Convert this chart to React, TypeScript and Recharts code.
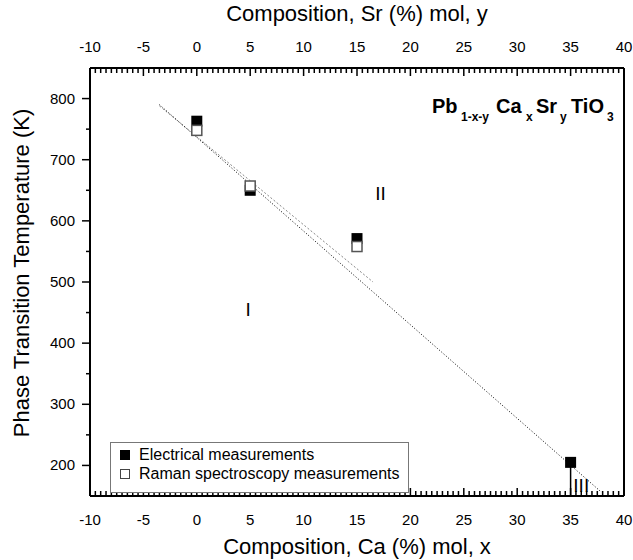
import React from 'react';
import {
  ComposedChart,
  Scatter,
  XAxis,
  YAxis,
  ReferenceLine,
  ReferenceDot,
  Legend
} from 'recharts';

// transition temperatures (K) vs Ca content x (mol %)
const electricalX = [0, 5, 15, 35];
const electricalT = [763, 650, 571, 205];
const ramanX = [0, 5, 15];
const ramanT = [748, 657, 558];

// phase boundary I / II (dotted) and fit of the Raman points (dashed)
const boundaryX = [-3.5, 37.9];
const boundaryT = [790, 156];
const ramanFitX = [-3.5, 16.5];
const ramanFitT = [788, 500];

// edge of phase III
const edgeX = [35, 35];
const edgeT = [205, 150];

const phaseLabels = ['I', 'II', 'III'];
const phaseLabelX = [4.8, 17.2, 36];
const phaseLabelT = [455, 645, 168];

const xMajorTicks = [-10, -5, 0, 5, 10, 15, 20, 25, 30, 35, 40];
const yMajorTicks = [200, 300, 400, 500, 600, 700, 800];

const FONT = 'Arial, "Liberation Sans", sans-serif';

// minor ticks every 0.5 on x, every 50 on y
const xTicks: number[] = [];
xMajorTicks.forEach((v, i) => {
  xTicks.push(v);
  if (i < xMajorTicks.length - 1) for (let k = 1; k < 10; k++) xTicks.push(v + k * 0.5);
});
const yTicks: number[] = [];
yMajorTicks.forEach((v, i) => {
  yTicks.push(v);
  if (i < yMajorTicks.length - 1) yTicks.push(v + 50);
});

const electricalData = electricalX.map((x, i) => ({ x, t: electricalT[i] }));
const ramanData = ramanX.map((x, i) => ({ x, t: ramanT[i] }));

// inward tick marks on the x axes, long ones carry the label
const XTick = ({ x, y, payload, side }: any) => {
  const major = xMajorTicks.includes(payload.value);
  const dir = side === 'top' ? 1 : -1;
  return (
    <g>
      <line x1={x} x2={x} y1={y} y2={y + dir * (major ? 8 : 5)} stroke="#000" strokeWidth={1.5} />
      {major && (
        <text
          x={x}
          y={side === 'top' ? y - 16 : y + 29}
          textAnchor="middle"
          fontFamily={FONT}
          fontSize={15}
          fill="#000"
        >
          {payload.value}
        </text>
      )}
    </g>
  );
};

const LeftTick = ({ x, y, payload }: any) => {
  const major = yMajorTicks.includes(payload.value);
  return (
    <g>
      <line x1={x} x2={x - (major ? 8 : 4)} y1={y} y2={y} stroke="#000" strokeWidth={1.5} />
      {major && (
        <text x={x - 15} y={y + 5} textAnchor="end" fontFamily={FONT} fontSize={15} fill="#000">
          {payload.value}
        </text>
      )}
    </g>
  );
};

const FilledSquare = ({ cx, cy }: any) => (
  <rect x={cx - 5.5} y={cy - 5.5} width={11} height={11} fill="#000" />
);

const OpenSquare = ({ cx, cy }: any) => (
  <rect x={cx - 5} y={cy - 5} width={10} height={10} fill="#fff" stroke="#555" strokeWidth={1.5} />
);

const NoShape = () => <g />;

const legendItems = [
  { name: 'Electrical measurements', filled: true },
  { name: 'Raman spectroscopy measurements', filled: false }
];

const renderLegend = () => (
  <div
    style={{
      width: 299,
      height: 51,
      boxSizing: 'border-box',
      border: '1px solid #777',
      background: '#fff',
      fontFamily: FONT,
      fontSize: 16,
      color: '#000',
      padding: '2px 0 0 5px'
    }}
  >
    {legendItems.map((item) => (
      <div key={item.name} style={{ display: 'flex', alignItems: 'center', height: 19 }}>
        <span
          style={{
            display: 'inline-block',
            width: item.filled ? 10 : 8,
            height: item.filled ? 10 : 8,
            background: item.filled ? '#000' : '#fff',
            border: item.filled ? 'none' : '1px solid #444',
            marginLeft: 4,
            marginRight: 9
          }}
        />
        {item.name}
      </div>
    ))}
  </div>
);

const App: React.FC = () => {
  return (
    <div style={{ position: 'absolute', left: 0, top: 0, background: '#fff' }}>
      <ComposedChart
        width={633}
        height={560}
        margin={{ top: 28, right: 8, bottom: 24, left: 20 }}
      >
        <XAxis
          xAxisId={0}
          type="number"
          dataKey="x"
          domain={[-10, 40]}
          ticks={xTicks}
          interval={0}
          tick={<XTick side="bottom" />}
          tickSize={0}
          tickMargin={0}
          tickLine={false}
          axisLine={{ stroke: '#000', strokeWidth: 2 }}
          height={40}
        />
        <XAxis
          xAxisId="top"
          orientation="top"
          type="number"
          dataKey="x"
          domain={[-10, 40]}
          ticks={xTicks}
          interval={0}
          tick={<XTick side="top" />}
          tickSize={0}
          tickMargin={0}
          tickLine={false}
          axisLine={{ stroke: '#000', strokeWidth: 2 }}
          height={40}
        />
        <YAxis
          yAxisId={0}
          type="number"
          dataKey="t"
          domain={[150, 850]}
          ticks={yTicks}
          interval={0}
          tick={<LeftTick />}
          tickSize={0}
          tickMargin={0}
          tickLine={false}
          axisLine={{ stroke: '#000', strokeWidth: 2 }}
          width={70}
        />
        <YAxis
          yAxisId="right"
          orientation="right"
          type="number"
          dataKey="t"
          domain={[150, 850]}
          tick={false}
          tickLine={false}
          axisLine={{ stroke: '#000', strokeWidth: 2 }}
          width={1}
        />

        {/* phase boundaries */}
        <ReferenceLine
          segment={[
            { x: ramanFitX[0], y: ramanFitT[0] },
            { x: ramanFitX[1], y: ramanFitT[1] }
          ]}
          stroke="#888"
          strokeWidth={1}
          strokeDasharray="2 2"
        />
        <ReferenceLine
          segment={[
            { x: boundaryX[0], y: boundaryT[0] },
            { x: boundaryX[1], y: boundaryT[1] }
          ]}
          stroke="#000"
          strokeWidth={1}
          strokeDasharray="1 2"
        />
        <ReferenceLine
          segment={[
            { x: edgeX[0], y: edgeT[0] },
            { x: edgeX[1], y: edgeT[1] }
          ]}
          stroke="#000"
          strokeWidth={1.5}
        />

        {/* hidden series that ties the Sr (top) axis and right frame to the data */}
        <Scatter
          data={electricalData}
          xAxisId="top"
          yAxisId="right"
          shape={<NoShape />}
          legendType="none"
          isAnimationActive={false}
        />

        <Scatter
          name="Electrical measurements"
          data={electricalData}
          shape={<FilledSquare />}
          isAnimationActive={false}
        />
        <Scatter
          name="Raman spectroscopy measurements"
          data={ramanData}
          shape={<OpenSquare />}
          isAnimationActive={false}
        />

        {phaseLabels.map((label, i) => (
          <ReferenceDot
            key={label}
            x={phaseLabelX[i]}
            y={phaseLabelT[i]}
            r={0}
            fill="none"
            stroke="none"
            label={{
              value: label,
              position: 'center',
              fontFamily: FONT,
              fontSize: 19,
              fill: '#000'
            }}
          />
        ))}

        <Legend
          content={renderLegend}
          layout="vertical"
          align="center"
          verticalAlign="middle"
          wrapperStyle={{ left: 110, top: 442, width: 299 }}
        />

        <text x={357} y={21} textAnchor="middle" fontFamily={FONT} fontSize={22} fill="#000">
          Composition, Sr (%) mol, y
        </text>
        <text x={357} y={554} textAnchor="middle" fontFamily={FONT} fontSize={22} fill="#000">
          Composition, Ca (%) mol, x
        </text>
        <text
          x={0}
          y={0}
          transform="translate(29, 273) rotate(-90)"
          textAnchor="middle"
          fontFamily={FONT}
          fontSize={22}
          fill="#000"
        >
          Phase Transition Temperature (K)
        </text>

        <text fontFamily={FONT} fontWeight="bold" fontSize={20} fill="#000">
          <tspan x={432} y={113}>Pb</tspan>
          <tspan x={461} y={121} fontSize={12}>1-x-y</tspan>
          <tspan x={496} y={113}>Ca</tspan>
          <tspan x={526} y={121} fontSize={12}>x</tspan>
          <tspan x={536} y={113}>Sr</tspan>
          <tspan x={560} y={121} fontSize={12}>y</tspan>
          <tspan x={571} y={113}>TiO</tspan>
          <tspan x={607} y={121} fontSize={12}>3</tspan>
        </text>
      </ComposedChart>
    </div>
  );
};

export default App;
